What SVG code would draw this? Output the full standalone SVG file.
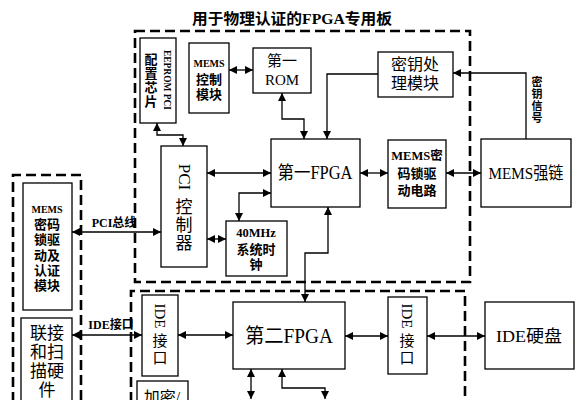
<svg xmlns="http://www.w3.org/2000/svg" width="588" height="400" viewBox="0 0 588 400">
<defs>
<marker id="ah" viewBox="0 0 8 8" refX="8" refY="4" markerWidth="8" markerHeight="8" markerUnits="userSpaceOnUse" orient="auto-start-reverse">
<path d="M0,0 L8,4 L0,8 z" fill="#000"/>
</marker>
<style>
.box{fill:#fff;stroke:#000;stroke-width:1.3}
.dash{fill:none;stroke:#000;stroke-width:2.6;stroke-dasharray:10 5}
.ln{fill:none;stroke:#000;stroke-width:1.3}
.both{marker-start:url(#ah);marker-end:url(#ah)}
.end{marker-end:url(#ah)}
text{font-family:"Liberation Serif","Noto Sans CJK SC",serif;fill:#000;text-anchor:middle;dominant-baseline:central}
.b{font-weight:bold}
</style>
</defs>
<rect width="588" height="400" fill="#fff"/>

<g id="frames">
<rect class="dash" x="135" y="31" width="335" height="251"/>
<path class="dash" d="M131,402 V291 H465 V402"/>
<path class="dash" d="M13,402 V175 H81 V402"/>
</g>

<text id="title" class="b" x="292" y="19" font-size="15" textLength="200" lengthAdjust="spacingAndGlyphs">用于物理认证的FPGA专用板</text>

<g id="connectors">
<path class="ln both" d="M229,70 H253"/>
<path class="ln both" d="M282,93 V119 H304 V139"/>
<path class="ln end" d="M378,74 H327 V139"/>
<path class="ln end" d="M526,139 V73 H453"/>
<path class="ln both" d="M157,123 V135 H183 V146"/>
<path class="ln both" d="M207,173 H271"/>
<path class="ln both" d="M239,221 V193 H271"/>
<path class="ln both" d="M207,239 H226"/>
<path class="ln both" d="M360,173 H388"/>
<path class="ln both" d="M446,173 H481"/>
<path class="ln both" d="M328,207 V253 H305 V302"/>
<path class="ln both" d="M72,232 H161"/>
<path class="ln both" d="M72,335 H142"/>
<path class="ln both" d="M178,335 H233"/>
<path class="ln both" d="M345,336 H388"/>
<path class="ln both" d="M427,336 H485"/>
<path class="ln both" d="M251,369 V399"/>
<path class="ln both" d="M282,369 V388 H325 V399"/>
<text class="b" x="114" y="223" font-size="12">PCI总线</text>
<text class="b" x="111" y="325" font-size="12">IDE接口</text>
<g class="b" font-size="11">
<text x="537" y="82">密</text>
<text x="537" y="94">钥</text>
<text x="537" y="106">信</text>
<text x="537" y="118">号</text>
</g>
</g>

<g id="eeprom">
<rect class="box" x="140" y="38" width="36" height="85"/>
<text class="b" font-size="10" transform="translate(167,80) rotate(90)" textLength="60" lengthAdjust="spacingAndGlyphs">EEPROM PCI</text>
<text class="b" font-size="13" x="151" y="59">配</text>
<text class="b" font-size="13" x="151" y="73">置</text>
<text class="b" font-size="13" x="151" y="87">芯</text>
<text class="b" font-size="13" x="151" y="101">片</text>
</g>

<g id="memsctrl">
<rect class="box" x="189" y="43" width="40" height="70"/>
<text class="b" font-size="10" x="209" y="63">MEMS</text>
<text class="b" font-size="13" x="209" y="79">控制</text>
<text class="b" font-size="13" x="209" y="94">模块</text>
</g>

<g id="rom1">
<rect class="box" x="253" y="48" width="58" height="45"/>
<text font-size="15" x="282" y="61">第一</text>
<text font-size="15" x="282" y="80">ROM</text>
</g>

<g id="keyproc">
<rect class="box" x="378" y="52" width="75" height="45"/>
<text font-size="16" x="415" y="64">密钥处</text>
<text font-size="16" x="415" y="83">理模块</text>
</g>

<g id="pcictrl">
<rect class="box" x="161" y="146" width="46" height="121"/>
<text font-size="17" transform="translate(184,177) rotate(90)">PCI</text>
<text font-size="17" x="184" y="207">控</text>
<text font-size="17" x="184" y="225">制</text>
<text font-size="17" x="184" y="243">器</text>
</g>

<g id="fpga1">
<rect class="box" x="271" y="139" width="89" height="68"/>
<text font-size="18" x="315" y="173" textLength="75" lengthAdjust="spacingAndGlyphs">第一FPGA</text>
</g>

<g id="memsdrv">
<rect class="box" x="388" y="140" width="58" height="68"/>
<text class="b" font-size="12.5" x="417" y="156">MEMS密</text>
<text class="b" font-size="13" x="417" y="173">码锁驱</text>
<text class="b" font-size="13" x="417" y="190">动电路</text>
</g>

<g id="memslink">
<rect class="box" x="481" y="139" width="90" height="68"/>
<text font-size="17" x="526" y="173" textLength="75" lengthAdjust="spacingAndGlyphs">MEMS强链</text>
</g>

<g id="clock">
<rect class="box" x="226" y="221" width="61" height="55"/>
<text class="b" font-size="12.5" x="256" y="233">40MHz</text>
<text class="b" font-size="13" x="256" y="249">系统时</text>
<text class="b" font-size="13" x="256" y="264">钟</text>
</g>

<g id="memsauth">
<rect class="box" x="23" y="183" width="49" height="127"/>
<text class="b" font-size="10" x="47" y="209">MEMS</text>
<text class="b" font-size="13" x="47" y="224">密码</text>
<text class="b" font-size="13" x="47" y="239">锁驱</text>
<text class="b" font-size="13" x="47" y="255">动及</text>
<text class="b" font-size="13" x="47" y="270">认证</text>
<text class="b" font-size="13" x="47" y="285">模块</text>
</g>

<g id="scanhw">
<rect class="box" x="21" y="318" width="51" height="92"/>
<text font-size="17" x="47" y="333">联接</text>
<text font-size="17" x="47" y="352">和扫</text>
<text font-size="17" x="47" y="371">描硬</text>
<text font-size="17" x="47" y="390">件</text>
</g>

<g id="ideleft">
<rect class="box" x="142" y="295" width="36" height="81"/>
<text font-size="15" transform="translate(160,316) rotate(90)">IDE</text>
<text font-size="15" x="160" y="341">接</text>
<text font-size="15" x="160" y="358">口</text>
</g>

<g id="fpga2">
<rect class="box" x="233" y="302" width="112" height="67"/>
<text font-size="20" x="289" y="336" textLength="88" lengthAdjust="spacingAndGlyphs">第二FPGA</text>
</g>

<g id="ideright">
<rect class="box" x="388" y="297" width="39" height="77"/>
<text font-size="15" transform="translate(407,316) rotate(90)">IDE</text>
<text font-size="15" x="407" y="341">接</text>
<text font-size="15" x="407" y="358">口</text>
</g>

<g id="idedisk">
<rect class="box" x="485" y="302" width="89" height="67"/>
<text font-size="17" x="529" y="336" textLength="66" lengthAdjust="spacingAndGlyphs">IDE硬盘</text>
</g>

<g id="crypt">
<rect class="box" x="137" y="381" width="51" height="30"/>
<text font-size="16" x="162" y="397">加密/</text>
</g>
</svg>
